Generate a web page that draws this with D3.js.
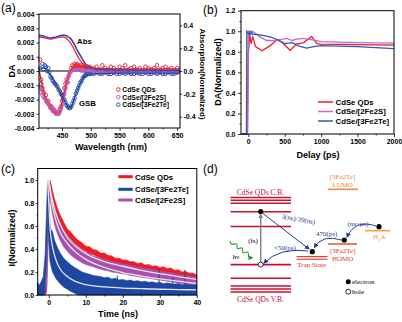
<!DOCTYPE html>
<html>
<head>
<meta charset="utf-8">
<script src="https://cdn.jsdelivr.net/npm/d3@7"></script>
<style>
  body { margin: 0; background: #fff; }
  svg { display: block; font-family: "Liberation Sans", Arial, sans-serif; }
  .tick text { font-size: 7px; font-weight: bold; fill: #000; }
  .tick line { stroke: #000; stroke-width: 0.8; }
  .title { font-size: 9px; font-weight: bold; }
  .tag { font-size: 12px; }
  .leg { font-size: 7.8px; font-weight: bold; }
  .dg { font-family: "Liberation Serif", "DejaVu Serif", serif; font-size: 7px; }
</style>
</head>
<body>
<div id="container"></div>
<script>
/* CONSTANTS */
const width = 402, height = 322
const red = "#ee1c24", purple = "#b55ec0", blue = "#2148a8"

/* DATA (a): TA spectra, dA in units of 1e-4 */
const wlTA = [412,414,416,418,420,422,424,426,428,430,432,434,436,438,440,442,444,446,448,450,452,454,456,458,460,462,464,466,468,470,472,474,476,478,480,482,484,486,488,490,492,494,496,498,500,
  505,510,515,520,525,530,535,540,545,550,555,560,565,570,575,580,585,590,595,600,605,610,615,620,625,630,635,640,645,650]
const taQDs = [8,-6,-12,-15,-19,-17,-22,-21,-24,-26,-25,-28,-27,-29,-30,-29,-30,-27,-25,-21,-17,-12,-9,-6,-8,-3,-1,2,4,3,5,4,5,4,3,4,3,4,2,3,2,3,2,3,2,
  2,3,1,4,2,1,3,2,0,3,2,4,1,2,3,1,2,0,3,2,1,2,4,1,2,3,1,2,0,2]
const ta2Fe2S = [-12,-15,-17,-18,-19,-21,-21,-23,-24,-25,-26,-27,-28,-29,-29,-30,-30,-29,-27,-24,-20,-16,-12,-8,-5,-3,-1,0,1,1,2,2,1,1,1,1,0,1,0,0,0,0,0,0,0,
  -1,0,-1,-1,0,-1,-2,-1,0,-1,-1,-1,0,-1,-2,-1,-1,0,-1,-1,-1,0,-1,-1,-2,-1,0,-1,-1,-1]
const ta3Fe2Te = [2,-9,5,1,4,3,0,2,-1,-4,-5,-7,-8,-9,-10,-11,-13,-14,-16,-17,-19,-20,-22,-24,-25,-26,-26,-25,-23,-21,-19,-16,-14,-12,-10,-8,-7,-5,-4,-3,-3,-2,-2,-2,-2,
  -2,-1,-2,-2,-1,-2,-2,-1,-2,-2,-1,-2,-1,-2,-2,-1,-2,-2,-1,-2,-2,-1,-2,-1,-2,-2,-1,-2,-2,-1]
const wlFit = [410,420,430,440,445,450,455,460,465,470,475,480,490,500,550,600,655]
const fitQDs = [1,-17,-25,-29.5,-29,-22,-13,-5,0,2.5,3,3,2.5,2,1.5,1.5,1.5]
const fit2Fe2S = [-10,-19,-25,-29,-30,-25,-17,-7,-1,1,1.5,1,0,-0.5,-1,-1,-1]
const fit3Fe2Te = [2,2,-3,-10,-13.5,-17.5,-21.5,-25,-26,-21,-15,-10,-3.5,-2,-1.5,-1.5,-1.5]
const wlAbs = [410,420,430,440,450,455,460,465,470,475,480,485,490,495,500,510,520,550,600,655]
const absQDs = [0.30,0.29,0.28,0.29,0.30,0.295,0.275,0.245,0.2,0.15,0.105,0.07,0.045,0.03,0.022,0.015,0.012,0.01,0.008,0.006]
const abs2Fe2S = [0.31,0.30,0.285,0.295,0.31,0.31,0.30,0.278,0.24,0.19,0.145,0.1,0.065,0.042,0.028,0.017,0.012,0.01,0.008,0.006]
const abs3Fe2Te = [0.315,0.305,0.29,0.30,0.315,0.315,0.305,0.285,0.25,0.2,0.155,0.11,0.07,0.045,0.03,0.018,0.013,0.01,0.008,0.006]
const ticksAx = [450,500,550,600,650], minorAx = [425,475,525,575,625]
const ticksAy = [-0.004,-0.003,-0.002,-0.001,0,0.001,0.002,0.003,0.004]
const ticksAy2 = [-0.4,-0.2,0,0.2,0.4]
const namesA = ["CdSe QDs","CdSe/[2Fe2S]","CdSe/[3Fe2Te]"]

/* DATA (b): kinetics */
const delayQDs = [-100,-15,-10,0,20,40,60,100,190,300,390,450,575,660,760,870,940,1000,1500,2000]
const daQDs = [0,0,0.08,0.78,0.96,0.88,0.95,0.85,0.81,0.86,0.915,0.9,0.815,0.875,0.89,0.95,0.88,0.875,0.87,0.865]
const delay2Fe2S = [-100,-10,0,50,100,150,250,350,450,530,600,650,750,850,1000,1500,2000]
const da2Fe2S = [0,0,1.0,1.0,0.98,0.95,0.91,0.91,0.92,0.93,0.91,0.92,0.93,0.92,0.9,0.89,0.885]
const delay3Fe2Te = [-100,-25,-20,0,10,20,30,50,60,100,200,300,400,500,600,700,800,900,1000,1500,2000]
const da3Fe2Te = [0,0,1.0,0.98,0.97,1.0,0.97,0.99,0.97,0.97,0.96,0.945,0.92,0.88,0.89,0.855,0.835,0.85,0.86,0.85,0.83]
const ticksBx = [0,500,1000,1500,2000], minorBx = [250,750,1250,1750]
const ticksBy = [0,0.2,0.4,0.6,0.8,1.0,1.2], minorBy = [0.1,0.3,0.5,0.7,0.9,1.1]

/* DATA (c): PL decay, noise envelopes */
const tPL = [-3,-2.5,-2,-1.5,-1,-0.6,-0.3,0,0.3,0.6,1,1.5,2,2.5,3,4,5,6,7,8,9,10,11,12,13,14,15,16,17,18,19,20,21,22,23,24,25,26,27,28,29,30,31,32,33,34,35,36,37,38,39,40]
const plQDsHi = [0.01,0.01,0.01,0.015,0.02,0.12,0.6,0.97,1.0,0.97,0.91,0.84,0.79,0.74,0.7,
  0.635,0.575,0.545,0.505,0.475,0.455,0.425,0.42,0.395,0.39,0.365,0.365,0.345,0.34,0.32,0.32,0.305,0.305,0.29,0.29,0.275,0.28,0.26,0.265,0.25,0.255,0.24,0.245,0.23,0.235,0.215,0.22,0.2,0.205,0.19,0.19,0.175]
const plQDsLo = [0,0,0,0,0,0.04,0.45,0.9,0.95,0.9,0.84,0.77,0.72,0.67,0.63,
  0.57,0.52,0.48,0.45,0.42,0.4,0.38,0.36,0.35,0.335,0.32,0.31,0.3,0.29,0.28,0.27,0.265,0.255,0.25,0.24,0.235,0.23,0.22,0.215,0.21,0.205,0.2,0.195,0.19,0.185,0.18,0.175,0.17,0.165,0.16,0.155,0.15]
const pl2Fe2SHi = [0.005,0.005,0.005,0.005,0.01,0.08,0.5,0.94,0.98,0.92,0.85,0.78,0.72,0.67,0.63,
  0.56,0.515,0.47,0.445,0.41,0.395,0.37,0.36,0.34,0.33,0.315,0.31,0.295,0.295,0.28,0.28,0.27,0.265,0.255,0.255,0.24,0.24,0.23,0.23,0.22,0.215,0.205,0.205,0.195,0.195,0.185,0.18,0.17,0.17,0.16,0.16,0.15]
const pl2Fe2SLo = [0,0,0,0,0,0.02,0.3,0.8,0.85,0.78,0.7,0.62,0.56,0.52,0.48,
  0.42,0.38,0.345,0.32,0.3,0.28,0.265,0.255,0.245,0.235,0.225,0.215,0.21,0.2,0.195,0.19,0.185,0.18,0.17,0.165,0.16,0.155,0.15,0.145,0.14,0.135,0.13,0.125,0.12,0.115,0.11,0.105,0.1,0.095,0.09,0.085,0.08]
const pl3Fe2TeHi = [0.1,0.09,0.12,0.16,0.35,0.75,1.0,0.88,0.62,0.57,0.55,0.48,0.44,0.4,0.37,
  0.32,0.29,0.26,0.24,0.22,0.2,0.19,0.18,0.17,0.165,0.16,0.15,0.155,0.14,0.145,0.13,0.135,0.125,0.13,0.12,0.125,0.115,0.12,0.11,0.115,0.105,0.11,0.1,0.105,0.1,0.095,0.1,0.09,0.095,0.09,0.085,0.09]
const pl3Fe2TeLo = [0,0,0,0,0.02,0.3,0.75,0.45,0.3,0.25,0.2,0.17,0.14,0.12,0.1,
  0.07,0.05,0.03,0.015,0,0,0,0,0,0,0,0,0,0,0,0,0,0,0,0,0,0,0,0,0,0,0,0,0,0,0,0,0,0,0,0,0]
const spikeT = [18.5,29.8,33.5,36.8], spikeV = [0.17,0.22,0.17,0.22]
const tFitC = [0,0.5,1,2,3,5,7,10,15,20,25,30,35,40]
const fitPLQDs = [1.0,0.9,0.82,0.7,0.62,0.5,0.43,0.36,0.29,0.25,0.215,0.185,0.16,0.135]
const fitPL2Fe2S = [1.0,0.87,0.77,0.64,0.55,0.45,0.38,0.31,0.24,0.195,0.165,0.14,0.12,0.1]
const tFitBlue = [-0.3,0,0.3,0.6,1,2,3,5,7,10,15,20,25,30,35,40]
const fitPL3Fe2Te = [1.0,0.8,0.6,0.5,0.42,0.3,0.23,0.16,0.12,0.09,0.07,0.06,0.055,0.05,0.047,0.044]
const ticksCx = [0,10,20,30,40], minorCx = [5,15,25,35]
const ticksCy = [0,0.2,0.4,0.6,0.8,1.0], minorCy = [0.1,0.3,0.5,0.7,0.9]
const namesC = ["CdSe QDs","CdSe/[3Fe2Te]","CdSe/[2Fe2S]"]

/* DATA (d): schematic levels, offsets inside the panel */
const qdLevels = [37.5,40.3,43.2,51.7,66.5,104.6,118.3,126,129,132]
const trapLevels = [96.6,99.2]
const lumoLevel = 29.3, homoLevel = 84, donorLevel = 70.7
const electronX = [60.7,112.3,144.3,179], electronY = [51.5,91.7,80,66.7]

/* SVG */
const svg = d3.select("#container").append("svg")
  .attr("width", width).attr("height", height)

function drawAxis(axis, tx, ty) {
  const g = svg.append("g").attr("transform", `translate(${tx},${ty})`).call(axis)
  g.select(".domain").remove()
  return g
}
function frame(x, y) {
  svg.append("rect")
    .attr("x", x.range()[0]).attr("y", y.range()[1])
    .attr("width", x.range()[1] - x.range()[0]).attr("height", y.range()[0] - y.range()[1])
    .attr("fill", "none").attr("stroke", "#000").attr("stroke-width", 1)
}
function text(x, y, s, cls, anchor, color) {
  return svg.append("text").attr("x", x).attr("y", y).attr("class", cls)
    .attr("text-anchor", anchor || "start").attr("fill", color || "#000").text(s)
}

// ---------- (a) ----------
const xA = d3.scaleLinear().domain([410, 655]).range([39, 180])
const yA = d3.scaleLinear().domain([-0.004, 0.004]).range([128, 14])
const yA2 = d3.scaleLinear().domain([-0.5, 0.5]).range([128, 14])

drawAxis(d3.axisBottom(xA).tickValues(ticksAx).tickSize(3).tickPadding(2.5), 0, 128)
drawAxis(d3.axisBottom(xA).tickValues(minorAx).tickSize(1.5).tickFormat(""), 0, 128)
drawAxis(d3.axisLeft(yA).tickValues(ticksAy).tickSize(2.5).tickPadding(2).tickFormat(d => d.toFixed(3)), 39, 0)
drawAxis(d3.axisRight(yA2).tickValues(ticksAy2).tickSize(2).tickPadding(1.5).tickFormat(d => d.toFixed(1)), 180, 0)

svg.append("line")
  .attr("x1", 39).attr("x2", 180).attr("y1", yA(0)).attr("y2", yA(0))
  .attr("stroke", "#555").attr("stroke-width", 1.5)

const seriesA = [[taQDs, fitQDs, absQDs, red], [ta2Fe2S, fit2Fe2S, abs2Fe2S, purple], [ta3Fe2Te, fit3Fe2Te, abs3Fe2Te, blue]]
seriesA.forEach(([ta, fit, abs, c]) => {
  svg.append("g").selectAll("circle")
    .data(ta).join("circle")
    .attr("cx", (d, i) => xA(wlTA[i])).attr("cy", d => yA(d * 1e-4))
    .attr("r", 1.8).attr("fill", "none").attr("stroke", c).attr("stroke-width", 0.9)
})
seriesA.forEach(([ta, fit, abs, c]) => {
  svg.append("path").datum(fit)
    .attr("d", d3.line().x((d, i) => xA(wlFit[i])).y(d => yA(d * 1e-4)).curve(d3.curveMonotoneX))
    .attr("fill", "none").attr("stroke", c).attr("stroke-width", 1.4)
})
seriesA.forEach(([ta, fit, abs, c]) => {
  svg.append("path").datum(abs)
    .attr("d", d3.line().x((d, i) => xA(wlAbs[i])).y(d => yA2(d)).curve(d3.curveMonotoneX))
    .attr("fill", "none").attr("stroke", c).attr("stroke-width", 1.2)
})
frame(xA, yA)

text(77, 44, "Abs", "leg")
text(79, 106, "GSB", "leg")
namesA.forEach((n, i) => {
  const y = 89.5 + i * 7.6
  svg.append("circle").attr("cx", 118.3).attr("cy", y).attr("r", 1.8)
    .attr("fill", "none").attr("stroke", seriesA[i][3]).attr("stroke-width", 0.9)
  text(122.3, y + 2.4, n, "leg").style("font-size", "6.8px")
})
text(111, 150, "Wavelength (nm)", "title", "middle")
text(0, 0, "DA", "title", "middle").attr("transform", "translate(15,71) rotate(-90)")
text(0, 0, "Absorption(Normalized)", "title", "middle")
  .style("font-size", "8px").attr("transform", "translate(199.5,74) rotate(90)")
text(1, 12, "(a)", "tag")

// ---------- (b) ----------
const xB = d3.scaleLinear().domain([-100, 2000]).range([241, 394])
const yB = d3.scaleLinear().domain([0, 1.2]).range([134, 10.7])

drawAxis(d3.axisBottom(xB).tickValues(ticksBx).tickSize(3).tickPadding(2.5).tickFormat(d3.format("d")), 0, 134)
drawAxis(d3.axisBottom(xB).tickValues(minorBx).tickSize(1.5).tickFormat(""), 0, 134)
drawAxis(d3.axisLeft(yB).tickValues(ticksBy).tickSize(3).tickPadding(2.5).tickFormat(d => d.toFixed(1)), 241, 0)
drawAxis(d3.axisLeft(yB).tickValues(minorBy).tickSize(1.5).tickFormat(""), 241, 0)

const seriesB = [[delayQDs, daQDs, red], [delay2Fe2S, da2Fe2S, "#c468cc"], [delay3Fe2Te, da3Fe2Te, "#2a5cbf"]]
seriesB.forEach(([t, v, c]) => {
  svg.append("path").datum(v)
    .attr("d", d3.line().x((d, i) => xB(t[i])).y(d => yB(d)))
    .attr("fill", "none").attr("stroke", c).attr("stroke-width", 1.3)
})
frame(xB, yB)
namesA.forEach((n, i) => {
  const y = 102 + i * 9.5
  svg.append("line").attr("x1", 318).attr("x2", 333).attr("y1", y).attr("y2", y)
    .attr("stroke", seriesB[i][2]).attr("stroke-width", 1.5)
  text(335.5, y + 2.8, n, "leg")
})
text(318, 158, "Delay (ps)", "title", "middle")
text(0, 0, "DA(Normalized)", "title", "middle").attr("transform", "translate(221,72) rotate(-90)")
text(203, 14, "(b)", "tag")

// ---------- (c) ----------
const xC = d3.scaleLinear().domain([-3, 40]).range([37.7, 196.8])
const yC = d3.scaleLinear().domain([0, 1.1]).range([295, 168.5])

drawAxis(d3.axisBottom(xC).tickValues(ticksCx).tickSize(3).tickPadding(2.5), 0, 295)
drawAxis(d3.axisBottom(xC).tickValues(minorCx).tickSize(1.5).tickFormat(""), 0, 295)
drawAxis(d3.axisLeft(yC).tickValues(ticksCy).tickSize(2).tickPadding(1.5).tickFormat(d => d.toFixed(1)), 37.7, 0)
drawAxis(d3.axisLeft(yC).tickValues(minorCy).tickSize(1).tickFormat(""), 37.7, 0)

const redC = "#ee1c24", purpleC = "#aa4fae", blueC = "#1d47a3"
const bands = [[plQDsLo, plQDsHi, redC], [pl2Fe2SLo, pl2Fe2SHi, purpleC], [pl3Fe2TeLo, pl3Fe2TeHi, blueC]]
bands.forEach(([lo, hi, c]) => {
  svg.append("path").datum(hi)
    .attr("d", d3.area().x((d, i) => xC(tPL[i])).y0((d, i) => yC(lo[i])).y1(d => yC(d)))
    .attr("fill", c).attr("stroke", c).attr("stroke-width", 0.6)
})
svg.append("g").selectAll("line").data(spikeV).join("line")
  .attr("x1", (d, i) => xC(spikeT[i])).attr("x2", (d, i) => xC(spikeT[i]))
  .attr("y1", yC(0)).attr("y2", d => yC(d))
  .attr("stroke", blueC).attr("stroke-width", 1)
const fitsC = [[tFitC, fitPLQDs], [tFitC, fitPL2Fe2S], [tFitBlue, fitPL3Fe2Te]]
fitsC.forEach(([t, v]) => {
  svg.append("path").datum(v)
    .attr("d", d3.line().x((d, i) => xC(t[i])).y(d => yC(d)).curve(d3.curveMonotoneX))
    .attr("fill", "none").attr("stroke", "#e4e4e4").attr("stroke-width", 1.3)
})
frame(xC, yC)
const legC = [redC, blueC, purpleC]
namesC.forEach((n, i) => {
  const y = [176.7, 189.3, 200][i]
  svg.append("line").attr("x1", 118.3).attr("x2", 132.7).attr("y1", y).attr("y2", y)
    .attr("stroke", legC[i]).attr("stroke-width", 3)
  text(135, y + 2.8, n, "leg")
})
text(118, 317, "Time (ns)", "title", "middle")
text(0, 0, "I(Normalized)", "title", "middle").attr("transform", "translate(15,238) rotate(-90)")
text(1, 173, "(c)", "tag")

// ---------- (d) ----------
const xD = d3.scaleLinear().domain([0, 202]).range([200, 402])
const yD = d3.scaleLinear().domain([0, 162]).range([160, 322])
const navy = "#2b3a8f"

const defs = svg.append("defs")
;[["navy", navy], ["gray", "#808080"], ["green", "#2e9b3a"]].forEach(([id, c]) => {
  defs.append("marker").attr("id", "arr-" + id)
    .attr("viewBox", "0 0 10 10").attr("refX", 8).attr("refY", 5)
    .attr("markerWidth", 5).attr("markerHeight", 5)
    .attr("markerUnits", "userSpaceOnUse").attr("orient", "auto")
    .append("path").attr("d", "M0,0L10,5L0,10z").attr("fill", c)
})

qdLevels.forEach(y => {
  svg.append("line").attr("x1", xD(30.5)).attr("x2", xD(91)).attr("y1", yD(y)).attr("y2", yD(y))
    .attr("stroke", "#c8102e").attr("stroke-width", 1.6)
})
trapLevels.forEach(y => {
  svg.append("line").attr("x1", xD(96.5)).attr("x2", xD(127.5)).attr("y1", yD(y)).attr("y2", yD(y))
    .attr("stroke", "#e8302a").attr("stroke-width", 1.1)
})
const dyeLines = [[lumoLevel, 128, 158, "#f0843a"], [homoLevel, 128, 157, "#e8502a"], [donorLevel, 165, 190, "#f5a030"]]
dyeLines.forEach(([y, a, b, c]) => {
  svg.append("line").attr("x1", xD(a)).attr("x2", xD(b)).attr("y1", yD(y)).attr("y2", yD(y))
    .attr("stroke", c).attr("stroke-width", 1.5)
})

// arrows
svg.append("line").attr("x1", xD(60.7)).attr("x2", xD(60.7)).attr("y1", yD(102)).attr("y2", yD(54.3))
  .attr("stroke", "#808080").attr("stroke-width", 1.4).attr("marker-end", "url(#arr-gray)")
svg.append("line").attr("x1", xD(63)).attr("x2", xD(109)).attr("y1", yD(53.5)).attr("y2", yD(89))
  .attr("stroke", navy).attr("stroke-width", 1).attr("marker-end", "url(#arr-navy)")
const curves = [[[108, 91], [80, 87], [64, 103]], [[141.5, 80], [122, 74], [114.5, 87.5]], [[176, 66], [155, 59], [147, 77]]]
curves.forEach(([s, q, e]) => {
  const p = d3.path()
  p.moveTo(xD(s[0]), yD(s[1]))
  p.quadraticCurveTo(xD(q[0]), yD(q[1]), xD(e[0]), yD(e[1]))
  svg.append("path").attr("d", p.toString()).attr("fill", "none")
    .attr("stroke", navy).attr("stroke-width", 1).attr("marker-end", "url(#arr-navy)")
})
const wave = [[30,81],[31.9,84.4],[36.6,83.9],[37.5,88.5],[42.2,88],[43.1,92.7],[47.8,92.2],[48.8,96.8],[52.5,97.8]]
svg.append("path").datum(wave)
  .attr("d", d3.line().x(d => xD(d[0])).y(d => yD(d[1])).curve(d3.curveCardinal))
  .attr("fill", "none").attr("stroke", "#2e9b3a").attr("stroke-width", 1.1).attr("marker-end", "url(#arr-green)")

// electrons and hole
svg.append("g").selectAll("circle").data(electronY).join("circle")
  .attr("cx", (d, i) => xD(electronX[i])).attr("cy", d => yD(d)).attr("r", 2.6).attr("fill", "#000")
svg.append("circle").attr("cx", xD(60.7)).attr("cy", yD(104.6)).attr("r", 2.5)
  .attr("fill", "#fff").attr("stroke", "#000").attr("stroke-width", 0.8)

// labels
const crimson = "#c8102e"
text(xD(60.5), yD(34.5), "CdSe QDs C.B.", "dg", "middle", crimson).style("font-size", "7.5px")
text(xD(60.5), yD(142), "CdSe QDs V.B.", "dg", "middle", crimson).style("font-size", "7.5px")
text(xD(53), yD(83), "(fs)", "dg", "middle")
text(xD(36), yD(98.5), "hν", "dg", "middle")
text(0, 0, "3(ns)/39(ns)", "dg", "middle", navy).attr("transform", `translate(${xD(98)},${yD(61.5)}) rotate(10)`)
text(xD(85), yD(89.5), "<50(ps)", "dg", "middle", navy)
text(xD(126.7), yD(75.5), "470(ps)", "dg", "middle", navy)
text(xD(158), yD(65.5), "(ns~μs)", "dg", "middle", navy)
text(xD(111.7), yD(106.5), "Trap State", "dg", "middle", "#e8302a")
text(xD(142.7), yD(92.5), "[3Fe2Te]", "dg", "middle", "#e0402a")
text(xD(142.7), yD(101), "HOMO", "dg", "middle", "#e0402a")
text(xD(142.5), yD(18.5), "[3Fe2Te]", "dg", "middle", "#f0843a")
text(xD(142.5), yD(27.3), "LUMO", "dg", "middle", "#f0843a")
const h2a = text(xD(179.3), yD(78.5), "H", "dg", "middle", "#e8963c")
h2a.append("tspan").attr("baseline-shift", "sub").style("font-size", "5px").text("2")
h2a.append("tspan").text("A")
svg.append("circle").attr("cx", xD(148.3)).attr("cy", yD(121.7)).attr("r", 2.5).attr("fill", "#000")
text(xD(152), yD(124), "electron", "dg")
svg.append("circle").attr("cx", xD(148.3)).attr("cy", yD(131.7)).attr("r", 2.5)
  .attr("fill", "#fff").attr("stroke", "#000").attr("stroke-width", 0.8)
text(xD(152), yD(134), "hole", "dg")
text(203, 173, "(d)", "tag")
</script>
</body>
</html>
